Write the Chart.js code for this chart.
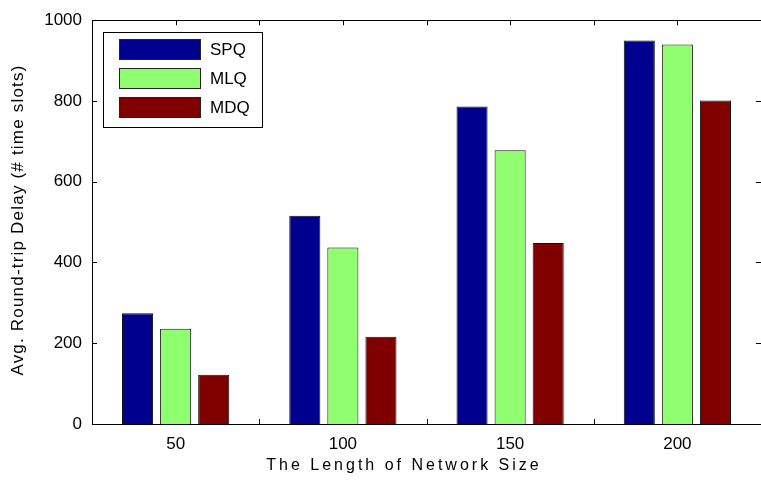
<!DOCTYPE html>
<html>
<head>
<meta charset="utf-8">
<script src="https://cdn.jsdelivr.net/npm/chart.js@4.4.1/dist/chart.umd.min.js"></script>
<style>
html,body{margin:0;padding:0;background:#fff;}
#wrap{width:761px;height:487px;position:relative;}
</style>
</head>
<body>
<div id="wrap"><canvas id="c" width="761" height="487"></canvas></div>
<script>
const categories = ["50", "100", "150", "200"];
const seriesNames = ["SPQ", "MLQ", "MDQ"];
const spqValues = [274, 516, 786, 950];
const mlqValues = [236, 437, 678, 940];
const mdqValues = [122, 216, 448, 801];
const yTicks = [0, 200, 400, 600, 800, 1000];
const xTitle = "The Length of Network Size";
const yTitle = "Avg. Round-trip Delay (# time slots)";

const colors = ["rgb(0,0,143)", "rgb(143,255,112)", "rgb(128,0,0)"];
const FONT = "'Liberation Sans', Arial, sans-serif";

const framePlugin = {
  id: 'frame',
  beforeDatasetsDraw(chart) {
    const {ctx, chartArea: a, scales} = chart;
    ctx.save();
    ctx.strokeStyle = '#000';
    ctx.lineWidth = 1;
    const x = scales.x, y = scales.y;
    const n = categories.length;
    const w = (a.right - a.left) / n;
    ctx.beginPath();
    for (let i = 0; i < n; i++) {
      const cx = x.getPixelForValue(i);
      [cx - w / 2, cx].forEach(px => {
        if (px <= a.left + 1) return;
        const p = Math.round(px) + 0.5;
        ctx.moveTo(p, a.bottom); ctx.lineTo(p, a.bottom - 5);
        ctx.moveTo(p, a.top); ctx.lineTo(p, a.top + 5);
      });
    }
    yTicks.forEach(v => {
      const p = Math.round(y.getPixelForValue(v)) + 0.5;
      ctx.moveTo(a.left, p); ctx.lineTo(a.left + 5, p);
      ctx.moveTo(a.right, p); ctx.lineTo(a.right - 5, p);
    });
    ctx.stroke();
    ctx.restore();
  },
  afterDatasetsDraw(chart) {
    const {ctx, chartArea: a} = chart;
    ctx.save();
    ctx.strokeStyle = '#000';
    ctx.lineWidth = 1;
    ctx.beginPath();
    const L = Math.round(a.left) + 0.5, T = Math.round(a.top) + 0.5, B = Math.round(a.bottom) + 0.5;
    ctx.moveTo(L, T); ctx.lineTo(a.right, T);
    ctx.moveTo(L, T); ctx.lineTo(L, B);
    ctx.moveTo(L, B); ctx.lineTo(a.right, B);
    ctx.stroke();

    // legend
    const lx = 103.5, ly = 32.5, lw = 159, lh = 95;
    ctx.fillStyle = '#fff';
    ctx.fillRect(lx, ly, lw, lh);
    ctx.strokeRect(lx, ly, lw, lh);
    const rows = [39, 68, 97];
    chart.data.datasets.forEach((ds, i) => {
      ctx.fillStyle = ds.backgroundColor;
      ctx.fillRect(119.5, rows[i] + 0.5, 81, 20);
      ctx.strokeStyle = '#222';
      ctx.strokeRect(119.5, rows[i] + 0.5, 81, 20);
      ctx.fillStyle = '#000';
      ctx.font = "17px " + FONT;
      ctx.textBaseline = 'middle';
      ctx.textAlign = 'left';
      ctx.fillText(ds.label, 210, rows[i] + 11);
    });

    // x title
    ctx.font = "16px " + FONT;
    ctx.fillStyle = '#000';
    ctx.textAlign = 'center';
    ctx.textBaseline = 'middle';
    ctx.letterSpacing = '3px';
    ctx.fillText(xTitle, 404, 466);

    // y title
    ctx.save();
    ctx.translate(18, 220);
    ctx.rotate(-Math.PI / 2);
    ctx.font = "17px " + FONT;
    ctx.letterSpacing = '1.2px';
    ctx.fillText(yTitle, 0, 0);
    ctx.restore();
    ctx.restore();
  }
};

new Chart(document.getElementById('c'), {
  type: 'bar',
  data: {
    labels: categories,
    datasets: [
      {label: seriesNames[0], data: spqValues, backgroundColor: colors[0], borderColor: '#111', borderWidth: 1},
      {label: seriesNames[1], data: mlqValues, backgroundColor: colors[1], borderColor: '#111', borderWidth: 1},
      {label: seriesNames[2], data: mdqValues, backgroundColor: colors[2], borderColor: '#111', borderWidth: 1}
    ]
  },
  options: {
    responsive: false,
    animation: false,
    devicePixelRatio: 1,
    layout: {padding: {top: 17, right: 0, left: 0, bottom: 0}},
    plugins: {legend: {display: false}, tooltip: {enabled: false}},
    datasets: {bar: {categoryPercentage: 0.683, barPercentage: 0.816}},
    scales: {
      x: {
        grid: {display: false, drawTicks: false},
        border: {display: false},
        ticks: {color: '#000', font: {size: 17, family: FONT}, padding: 10, maxRotation: 0},
        afterFit(s) { s.height = 63; }
      },
      y: {
        min: 0, max: 1000,
        grid: {display: false, drawTicks: false},
        border: {display: false},
        afterBuildTicks(s) { s.ticks = yTicks.map(v => ({value: v})); },
        ticks: {color: '#000', font: {size: 17, family: FONT}, padding: 10, callback: v => String(v)},
        afterFit(s) { s.width = 92; }
      }
    }
  },
  plugins: [framePlugin]
});
</script>
</body>
</html>
